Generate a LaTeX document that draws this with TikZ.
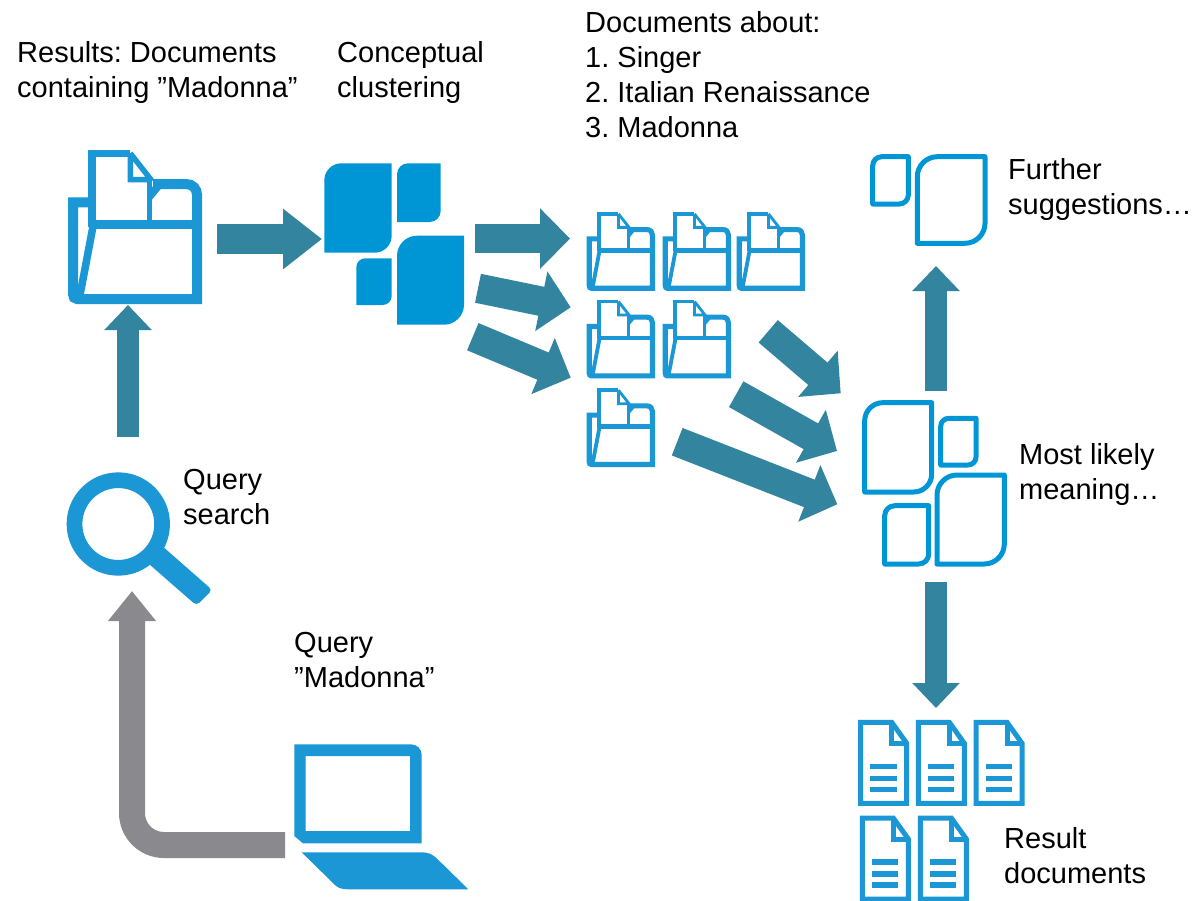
\documentclass[tikz,border=0pt]{standalone}
\usepackage{fontspec}
\setmainfont{Liberation Sans}
\usetikzlibrary{arrows.meta}
\definecolor{iconblue}{HTML}{1B97D5}
\definecolor{leafblue}{HTML}{0096D6}
\definecolor{teal}{HTML}{33849E}
\definecolor{greyarrowc}{HTML}{8A898E}
\tikzset{
  lab/.style={anchor=north west,inner sep=0pt,align=left,font=\fontsize{29}{35}\selectfont\frenchspacing},
  flow/.style={draw=teal,line width=29.5pt,-{Triangle[length=30pt,width=59pt,fill=teal]}},
  flowlong/.style={draw=teal,line width=29.5pt,-{Triangle[length=39pt,width=58pt,fill=teal]}},
  flowthin/.style={draw=teal,line width=22pt,-{Triangle[length=25pt,width=46pt,fill=teal]}},
  greyflow/.style={draw=greyarrowc,line width=26pt,rounded corners=32pt,-{Triangle[length=30pt,width=46pt,fill=greyarrowc]}},
  leafoutline/.style={draw=leafblue,line width=5pt,line join=round},
  leaffill/.style={fill=leafblue}
}
% leaf path: x1 y1 x2 y2 radius, rounded top-left and bottom-right
\newcommand{\myleaf}[6]{%
  \path[#1] (#2,#5) -- (#2,{#3+#6}) .. controls (#2,{#3+.45*#6}) and ({#2+.45*#6},#3) .. ({#2+#6},#3)
   -- (#4,#3) -- (#4,{#5-#6}) .. controls (#4,{#5-.45*#6}) and ({#4-.45*#6},#5) .. ({#4-#6},#5) -- cycle;}
% x y scale
\newcommand{\myfolder}[3]{%
  \begin{scope}[shift={(#1,#2)},xscale=#3,yscale=#3,line join=miter]
    \draw[iconblue,line width=#3*7.5pt] (24,78) -- (24,4.3) -- (62.3,4.3);
    \draw[iconblue,line width=#3*5.5pt] (62.3,4.3) -- (84,32) (62.3,4.3) -- (62.3,30.7) -- (84,30.7);
    \draw[iconblue,line width=#3*5.5pt] (81.7,31) -- (81.7,75);
    \draw[iconblue,line width=#3*10pt] (85,35) -- (118,35) .. controls (125,35) and (129,40) .. (129,46) -- (129,150) -- (9,150) .. controls (6.5,150) and (5,148) .. (5,145) -- (5,53.3) -- (24,53.3);
    \draw[iconblue,line width=#3*9pt] (24,75.7) -- (129,75.7);
    \draw[iconblue,line width=#3*7.5pt] (25,77.5) -- (12,146);
    \fill[iconblue] (82.3,52.7) -- (82.3,38) -- (96,36) -- cycle;
  \end{scope}}
\newcommand{\mydoc}[2]{%
  \begin{scope}[shift={(#1,#2)},line width=5pt]
    \draw[iconblue] (0,0) -- (31,0) -- (46,21) -- (46,81) -- (0,81) -- cycle;
    \draw[iconblue] (31,0) -- (31,21) -- (46,21);
    \draw[iconblue,line width=5.5pt] (9.5,44) -- (36,44) (9.5,56) -- (36,56) (9.5,67) -- (36,67);
  \end{scope}}
\begin{document}
\begin{tikzpicture}[x=1pt,y=-1pt]
\useasboundingbox (0,0) rectangle (1204,900);
\fill[white] (0,0) rectangle (1204,900);

% labels
\node[lab] (results) at (17,41.5) {Results: Documents\\containing ”Madonna”};
\node[lab] (concept) at (337,41.5) {Conceptual\\clustering};
\node[lab] (docsabout) at (585,11.5) {Documents about:\\1. Singer\\2. Italian Renaissance\\3. Madonna};
\node[lab] (qsearch) at (183,469.5) {Query\\search};
\node[lab] (qmad) at (294,632) {Query\\”Madonna”};
\node[lab] (further) at (1008,158.5) {Further\\suggestions…};
\node[lab] (likely) at (1019,443.5) {Most likely\\meaning…};
\node[lab] (resdocs) at (1004,827) {Result\\documents};

% big folder
\myfolder{68}{149}{1}
% small folders
\myfolder{586.7}{211.7}{0.51}
\myfolder{662.7}{211.7}{0.51}
\myfolder{736.7}{211.7}{0.51}
\myfolder{586.7}{299.3}{0.51}
\myfolder{662.7}{299.3}{0.51}
\myfolder{586.7}{388}{0.51}

% concept cluster
\myleaf{leaffill}{324.3}{163.3}{391.7}{252.7}{17}
\myleaf{leaffill}{397}{163.3}{440.7}{222}{11}
\myleaf{leaffill}{356.3}{258.3}{391.7}{305}{9}
\myleaf{leaffill}{397}{235.7}{464}{324.7}{20}

% meaning cluster
\myleaf{leafoutline}{864.7}{402.7}{931.7}{492}{18}
\myleaf{leafoutline}{940.7}{418.3}{976}{465}{8}
\myleaf{leafoutline}{884.7}{505.7}{928.7}{564}{10}
\myleaf{leafoutline}{937}{475}{1004.3}{564}{20}

% further suggestions
\myleaf{leafoutline}{872.7}{156.7}{908.3}{204}{9}
\myleaf{leafoutline}{917.3}{156.7}{985}{243.3}{20}

% result documents
\mydoc{860.7}{722.3}
\mydoc{918.3}{722.3}
\mydoc{976}{722.3}
\mydoc{862.3}{818}
\mydoc{920.3}{818}

% magnifier
\draw[iconblue,line width=15.7pt] (118.3,524) circle[radius=43.8pt];
\fill[iconblue,rounded corners=4pt] (157,541.5) -- (212.3,590) -- (196.5,605.5) -- (141,557) -- cycle;

% laptop
\path[fill=iconblue,even odd rule]
  (294.3,744.3) -- (411,744.3) .. controls (417,744.3) and (421.7,749) .. (421.7,755) -- (421.7,843.3) -- (303,843.3) -- (294.3,836) -- cycle
  (305.7,756) rectangle (410,831);
\fill[iconblue] (301.7,852.3) -- (421.7,852.3) .. controls (428,852.3) and (432,854) .. (436.7,858.3) -- (468.3,889.3) -- (348.3,889.3) .. controls (342,889.3) and (338,888) .. (335,885) -- cycle;

% connector ends
\coordinate (a1s) at (217,239);   \coordinate (a1e) at (322,239);
\coordinate (a2s) at (128,437);   \coordinate (a2e) at (128,305);
\coordinate (a3s) at (475,238.6); \coordinate (a3e) at (570,238.6);
\coordinate (a4s) at (478,288.3); \coordinate (a4e) at (570.7,307.3);
\coordinate (a5s) at (472.8,336.7); \coordinate (a5e) at (570.7,377.7);
\coordinate (a6s) at (768.2,331.3); \coordinate (a6e) at (840.7,393.3);
\coordinate (a7s) at (736.2,394.2); \coordinate (a7e) at (837,451);
\coordinate (a8s) at (677.2,441.7); \coordinate (a8e) at (837.3,504.3);
\coordinate (a9s) at (936,391);   \coordinate (a9e) at (936,266);
\coordinate (a10s) at (936,582);  \coordinate (a10e) at (936,708);
\coordinate (gs) at (285,845);    \coordinate (gc) at (132,845);  \coordinate (ge) at (132,591);

\draw[flowlong] (a1s) -- (a1e);
\draw[flowthin] (a2s) -- (a2e);
\draw[flow] (a3s) -- (a3e);
\draw[flow] (a4s) -- (a4e);
\draw[flow] (a5s) -- (a5e);
\draw[flow] (a6s) -- (a6e);
\draw[flow] (a7s) -- (a7e);
\draw[flow] (a8s) -- (a8e);
\draw[flowthin] (a9s) -- (a9e);
\draw[flowthin] (a10s) -- (a10e);
\draw[greyflow] (gs) -- (gc) -- (ge);
\end{tikzpicture}
\end{document}
